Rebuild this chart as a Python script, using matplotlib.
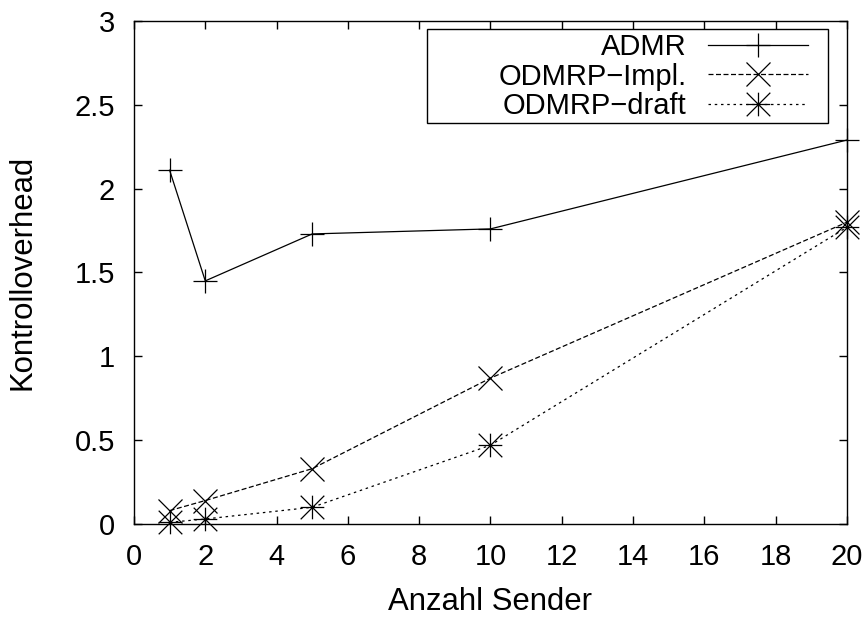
import matplotlib
matplotlib.use("Agg")
import matplotlib.pyplot as plt
import numpy as np
from matplotlib.path import Path
from matplotlib.patches import Rectangle
from matplotlib.ticker import FuncFormatter

plt.rcParams['font.family'] = ['Liberation Sans', 'DejaVu Sans']

# data
sender = [1, 2, 5, 10, 20]
admr = [2.11, 1.45, 1.73, 1.76, 2.29]
odmrp_impl = [0.08, 0.14, 0.33, 0.87, 1.80]
odmrp_draft = [0.01, 0.03, 0.10, 0.47, 1.77]

# gnuplot style star (plus + cross)
star = Path([(-1, 0), (1, 0), (0, -1), (0, 1), (-1, -1), (1, 1), (-1, 1), (1, -1)],
            [Path.MOVETO, Path.LINETO] * 4)

fs = 21
fig = plt.figure(figsize=(8.66, 6.17), dpi=100)
ax = fig.add_axes([0.1547, 0.1507, 0.8233, 0.8153])

lw = 0.9
ax.plot(sender, admr, color='black', lw=lw, ls='-', marker='+', ms=17, mew=lw,
        label='ADMR', clip_on=False)
ax.plot(sender, odmrp_impl, color='black', lw=lw, ls=(0, (4, 2)), marker='x', ms=17, mew=lw,
        label='ODMRP\u2212Impl.', clip_on=False)
ax.plot(sender, odmrp_draft, color='black', lw=lw, ls=(0, (2, 3)), marker=star, ms=17, mew=lw,
        label='ODMRP\u2212draft', clip_on=False)

ax.set_xlim(0, 20)
ax.set_ylim(0, 3)
ax.set_xticks(np.arange(0, 21, 2))
ax.set_yticks(np.arange(0, 3.01, 0.5))
ax.yaxis.set_major_formatter(FuncFormatter(lambda v, p: '%g' % v))
ax.tick_params(direction='in', length=6, width=1, top=True, right=True, labelsize=fs)
ax.tick_params(axis='x', pad=14)
ax.tick_params(axis='y', pad=13.5)
for s in ax.spines.values():
    s.set_linewidth(1)

ax.set_xlabel('Anzahl Sender', fontsize=22.4, labelpad=11)
ax.set_ylabel('Kontrolloverhead', fontsize=22.4, labelpad=27)

# legend box like gnuplot's key
ax.add_patch(Rectangle((0.411, 0.797), 0.562, 0.187, transform=ax.transAxes, fill=True,
                       facecolor='white', edgecolor='black', lw=1, zorder=4))
leg = ax.legend(loc='upper right', bbox_to_anchor=(0.945, 0.976), fontsize=fs, markerfirst=False,
                handlelength=3.43, frameon=False, borderpad=0, labelspacing=0.05,
                handletextpad=0.72, borderaxespad=0)
leg.set_zorder(5)

fig.savefig('out.png', dpi=100)
